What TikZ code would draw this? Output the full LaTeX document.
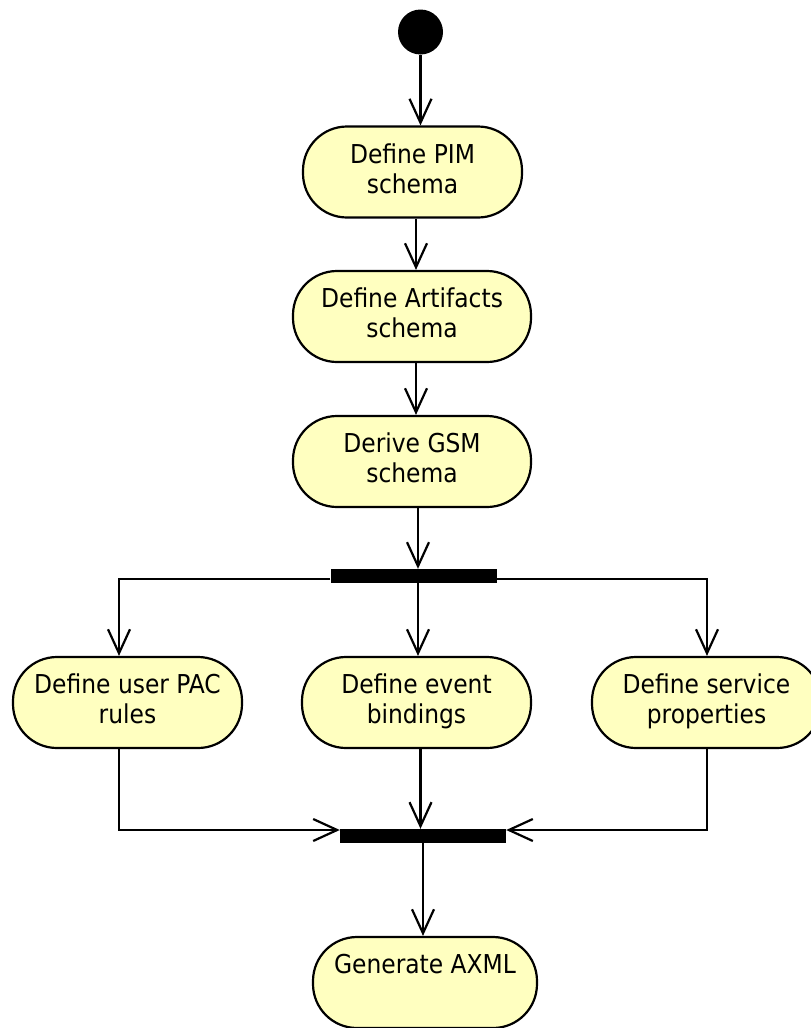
\documentclass[tikz,border=0pt]{standalone}
\usepackage{fontspec}
\setmainfont{DejaVu Sans Condensed}
\usetikzlibrary{arrows.meta}
\definecolor{actfill}{RGB}{255,255,192}
\begin{document}
\begin{tikzpicture}[x=1pt,y=-1pt,
  activity/.style={draw=black, line width=2.2pt, fill=actfill, rounded corners=44pt,
    minimum height=91pt, align=center, inner sep=0pt,
    text height=48pt, text depth=6pt,
    font=\fontsize{26}{30}\selectfont},
  bar/.style={fill=black, draw=none, minimum width=166pt, minimum height=14pt, inner sep=0pt},
  flow/.style={draw=black, line width=2.2pt,
    -{Straight Barb[length=24pt, width=22pt, line width=2.2pt]}}]
\useasboundingbox (0,0) rectangle (811,1028);
\clip (0,0) rectangle (811,1028);

% initial state
\node[circle, fill=black, minimum size=45pt, inner sep=0pt] (start) at (420.5,32) {};

% activities
\node[activity, minimum width=219pt] (n1) at (412.5,172) {Define PIM\\schema};
\node[activity, minimum width=238pt] (n2) at (412,316.5) {Define Artifacts\\schema};
\node[activity, minimum width=238pt] (n3) at (412,461.5) {Derive GSM\\schema};
\node[activity, minimum width=229pt] (n4) at (127.5,702.5) {Define user PAC\\rules};
\node[activity, minimum width=229pt] (n5) at (416.5,702.5) {Define event\\bindings};
\node[activity, minimum width=229pt] (n6) at (706.5,702.5) {Define service\\properties};
\node[activity, minimum width=224pt] (n7) at (425,982.5) {Generate AXML\\\phantom{Xg}};

% fork and join bars
\node[bar] (fork) at (413.5,576) {};
\node[bar] (join) at (423,836) {};

% connector x positions and bar rail heights
\coordinate (c12) at (416,0);
\coordinate (c3) at (418,0);
\coordinate (c4) at (119,0);
\coordinate (c5) at (420.5,0);
\coordinate (c6) at (707,0);
\coordinate (c7) at (423,0);
\coordinate (forkline) at (0,579);
\coordinate (joinline) at (0,830);

% sequence
\draw[flow] (start) -- (start |- n1.north);
\draw[flow] (n1.south -| c12) -- (c12 |- n2.north);
\draw[flow] (n2.south -| c12) -- (c12 |- n3.north);
\draw[flow] (n3.south -| c3) -- (c3 |- fork.north);

% fork branches
\draw[flow] (fork.west |- forkline) -| (c4 |- n4.north);
\draw[flow] (fork.east |- forkline) -| (c6 |- n6.north);
\draw[flow] (fork.south -| c3) -- (c3 |- n5.north);

% join branches
\draw[flow] (c4 |- n4.south) |- (join.west |- joinline);
\draw[flow] (c6 |- n6.south) |- (join.east |- joinline);
\draw[flow] (n5.south -| c5) -- (c5 |- join.north);
\draw[flow] (join.south -| c7) -- (c7 |- n7.north);
\end{tikzpicture}
\end{document}
